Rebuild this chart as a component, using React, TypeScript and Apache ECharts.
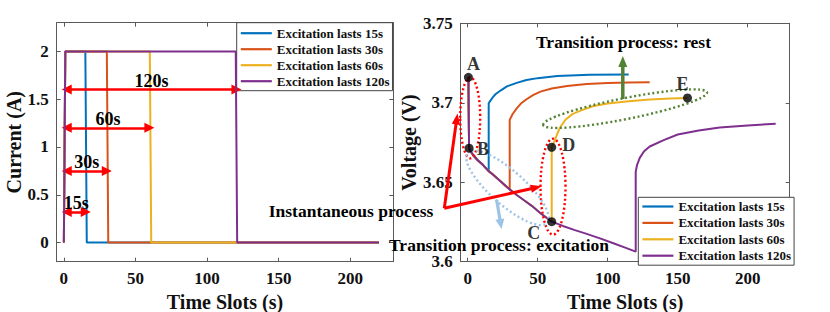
import React, { useEffect, useRef } from "react";
import * as echarts from "echarts";

const FONT = "'Liberation Serif', 'Times New Roman', serif";
const AXIS = "#5a5a5a";
const INK = "#111";

const seriesNames = ["Excitation lasts 15s", "Excitation lasts 30s", "Excitation lasts 60s", "Excitation lasts 120s"];
const seriesColors = ["#0072BD", "#D95319", "#EDB120", "#7E2F8E"];

const xTicks = [0, 50, 100, 150, 200];
const currentTicks = [0, 0.5, 1, 1.5, 2];
const voltageTicks = [3.6, 3.65, 3.7, 3.75];

// Current (A) vs time (s)
const curT15 = [0, 1, 15, 16, 220];
const curA15 = [0, 2, 2, 0, 0];
const curT30 = [0, 1, 30, 31, 220];
const curA30 = [0, 2, 2, 0, 0];
const curT60 = [0, 1, 60, 61, 220];
const curA60 = [0, 2, 2, 0, 0];
const curT120 = [0, 1, 120, 121, 220];
const curA120 = [0, 2, 2, 0, 0];

// Double arrows in the current plot
const spanStart = [2, 2, 2, 2];
const spanEnd = [15.3, 30, 59.7, 120.5];
const spanLevel = [0.32, 0.75, 1.2, 1.6];
const spanLabels = ["15s", "30s", "60s", "120s"];

// Voltage during the (shared) excitation
const exciteT = [0.5, 1, 2, 4, 7, 11, 15, 18, 23, 28, 30, 35, 40, 46, 52, 60, 68, 76, 85, 95, 105, 112, 120];
const exciteV = [3.716, 3.6714, 3.6695, 3.667, 3.664, 3.6608, 3.657, 3.6548, 3.651, 3.647, 3.6455, 3.642, 3.6388, 3.635, 3.6305, 3.6252, 3.6225, 3.62, 3.6175, 3.6145, 3.6113, 3.609, 3.6063];

// Voltage during rest
const restT15 = [15, 16, 18, 20, 24, 28, 35, 42, 50, 64, 87, 115];
const restV15 = [3.6997, 3.701, 3.7035, 3.7055, 3.708, 3.7103, 3.7125, 3.7143, 3.7155, 3.7168, 3.7176, 3.7178];
const restT30 = [30, 31, 32, 35, 38, 42, 47, 52, 60, 71, 85, 100, 115, 130];
const restV30 = [3.6892, 3.691, 3.6928, 3.6965, 3.6995, 3.7022, 3.705, 3.707, 3.709, 3.7106, 3.7118, 3.7124, 3.7127, 3.7129];
const restT60 = [60, 62, 64, 66, 70, 75, 82, 90, 100, 115, 130, 145, 157];
const restV60 = [3.672, 3.676, 3.6805, 3.6845, 3.6895, 3.693, 3.6955, 3.698, 3.6995, 3.701, 3.702, 3.7027, 3.703];
const restT120 = [120, 121, 123, 126, 130, 140, 150, 165, 180, 200, 220];
const restV120 = [3.6565, 3.661, 3.6655, 3.6695, 3.6725, 3.6765, 3.68, 3.6825, 3.6845, 3.6857, 3.6868];

// Marked points A..E
const pointNames = ["A", "B", "C", "D", "E"];
const pointT = [0.5, 1, 60, 60, 157];
const pointV = [3.716, 3.6714, 3.6252, 3.672, 3.703];
const pointLabelOffset = [[5, -13], [14, 1], [-18, 11], [17, -2], [-5, -14]];

const zip = (a: number[], b: number[]) => a.map((v, i) => [v, b[i]]);

function voltageSeries(L: number, rt: number[], rv: number[]) {
  const pts: number[][] = [];
  exciteT.forEach((t, i) => {
    if (t <= L) pts.push([t, exciteV[i]]);
  });
  return pts.concat(zip(rt, rv));
}

function arrow(x1: number, y1: number, x2: number, y2: number, color: string, w: number, hl: number, hw: number) {
  const dx = x2 - x1, dy = y2 - y1;
  const len = Math.hypot(dx, dy);
  const ux = dx / len, uy = dy / len;
  const bx = x2 - ux * hl, by = y2 - uy * hl;
  const px = -uy, py = ux;
  return [
    { type: "line", z: 30, shape: { x1, y1, x2: bx + ux, y2: by + uy }, style: { stroke: color, lineWidth: w } },
    {
      type: "polygon",
      z: 30,
      shape: { points: [[x2, y2], [bx + px * hw, by + py * hw], [bx - px * hw, by - py * hw]] },
      style: { fill: color },
    },
  ];
}

function dottedEllipse(cx: number, cy: number, rx: number, ry: number, rotation: number, color: string) {
  return {
    type: "ellipse",
    z: 25,
    originX: cx,
    originY: cy,
    rotation,
    shape: { cx, cy, rx, ry },
    style: { fill: "none", stroke: color, lineWidth: 2.4, lineDash: [2, 2.6] },
  };
}

function annotText(x: number, y: number, text: string, align: string) {
  return {
    type: "text",
    z: 40,
    x,
    y,
    style: {
      text,
      fill: "#000",
      font: `bold 17.5px ${FONT}`,
      textAlign: align,
      textVerticalAlign: "middle",
    },
  };
}

function makeXAxis(grid: number, top: boolean, name?: string) {
  return {
    gridIndex: grid,
    type: "value",
    min: -5,
    max: 230,
    position: top ? "top" : "bottom",
    axisLine: { show: true, onZero: false, lineStyle: { color: AXIS, width: 1 } },
    axisTick: { show: true, inside: true, length: 4, customValues: xTicks, lineStyle: { color: AXIS } },
    axisLabel: top
      ? { show: false }
      : { show: true, customValues: xTicks, margin: 8, fontSize: 17, fontWeight: "bold", fontFamily: FONT, color: INK },
    splitLine: { show: false },
    name: top ? undefined : name,
    nameLocation: "middle",
    nameGap: 30,
    nameTextStyle: { fontSize: 20, fontWeight: "bold", fontFamily: FONT, color: INK },
  };
}

function makeYAxis(grid: number, right: boolean, min: number, max: number, ticks: number[], name?: string, gap?: number) {
  return {
    gridIndex: grid,
    type: "value",
    min,
    max,
    position: right ? "right" : "left",
    axisLine: { show: true, onZero: false, lineStyle: { color: AXIS, width: 1 } },
    axisTick: { show: true, inside: true, length: 4, customValues: ticks, lineStyle: { color: AXIS } },
    axisLabel: right
      ? { show: false }
      : {
          show: true,
          customValues: ticks,
          margin: 8,
          fontSize: 17,
          fontWeight: "bold",
          fontFamily: FONT,
          color: INK,
          verticalAlignMinLabel: "middle",
          verticalAlignMaxLabel: "middle",
        },
    splitLine: { show: false },
    name: right ? undefined : name,
    nameLocation: "middle",
    nameGap: gap,
    nameTextStyle: { fontSize: 20, fontWeight: "bold", fontFamily: FONT, color: INK },
  };
}

function legendOpt(left: number, top: number, gap: number, padTop: number) {
  return {
    data: seriesNames,
    orient: "vertical",
    left,
    top,
    itemWidth: 31,
    itemHeight: 12,
    itemGap: gap,
    itemTextGap: 4,
    padding: [padTop, 3, 3, 3],
    borderColor: "#444",
    borderWidth: 1,
    backgroundColor: "#fff",
    borderRadius: 0,
    selectedMode: false,
    itemStyle: { opacity: 0 },
    lineStyle: { width: 2.2 },
    textStyle: { fontSize: 13, fontWeight: "bold", fontFamily: FONT, color: INK, lineHeight: 12 },
  };
}

export default function App() {
  const ref = useRef<HTMLDivElement>(null);

  useEffect(() => {
    if (!ref.current) return;
    const chart = echarts.init(ref.current, null, { renderer: "svg" });

    const curData = [zip(curT15, curA15), zip(curT30, curA30), zip(curT60, curA60), zip(curT120, curA120)];
    const voltData = [
      voltageSeries(15, restT15, restV15),
      voltageSeries(30, restT30, restV30),
      voltageSeries(60, restT60, restV60),
      voltageSeries(120, restT120, restV120),
    ];

    const series: any[] = [];
    seriesNames.forEach((name, i) => {
      series.push({
        name,
        type: "line",
        xAxisIndex: 0,
        yAxisIndex: 0,
        data: curData[i],
        symbol: "none",
        color: seriesColors[i],
        lineStyle: { width: 2, color: seriesColors[i] },
        z: 2 + i,
      });
    });
    seriesNames.forEach((name, i) => {
      series.push({
        name,
        type: "line",
        xAxisIndex: 2,
        yAxisIndex: 2,
        data: voltData[i],
        symbol: "none",
        color: seriesColors[i],
        lineStyle: { width: 2, color: seriesColors[i] },
        z: 2 + i,
      });
    });

    series.push({
      name: "spans",
      type: "line",
      xAxisIndex: 0,
      yAxisIndex: 0,
      data: [[0, 0]],
      symbol: "none",
      lineStyle: { opacity: 0 },
      z: 10,
      markLine: {
        silent: true,
        animation: false,
        symbol: ["triangle", "triangle"],
        symbolSize: 10,
        lineStyle: { color: "#ff0000", width: 2.5, type: "solid" },
        label: {
          show: true,
          position: "middle",
          distance: 0,
          formatter: "{b}",
          fontSize: 18,
          fontWeight: "bold",
          fontFamily: FONT,
          color: "#000",
        },
        emphasis: { disabled: true },
        data: spanLabels.map((lab, i) => [
          { name: lab, coord: [spanStart[i], spanLevel[i]] },
          { coord: [spanEnd[i], spanLevel[i]] },
        ]),
      },
    });

    series.push({
      name: "points",
      type: "scatter",
      xAxisIndex: 2,
      yAxisIndex: 2,
      symbolSize: 9,
      itemStyle: { color: "#000" },
      z: 50,
      label: {
        show: true,
        position: "inside",
        formatter: "{b}",
        fontSize: 18,
        fontWeight: "bold",
        fontFamily: FONT,
        color: "#000",
      },
      data: pointNames.map((n, i) => ({
        name: n,
        value: [pointT[i], pointV[i]],
        label: { offset: pointLabelOffset[i] },
      })),
    });

    const graphics: any[] = [
      dottedEllipse(470.2, 117.8, 10, 40.5, 0, "#ff0000"),
      dottedEllipse(553, 186.7, 12.5, 48, 0, "#ff0000"),
      dottedEllipse(625, 108.8, 83.5, 10.5, 0.196, "#548235"),
      dottedEllipse(507.5, 188, 53, 17, -0.724, "#9DC3E6"),
      ...arrow(444.3, 208.3, 457.5, 113.5, "#ff0000", 3, 11, 4.2),
      ...arrow(444.3, 208.3, 541.7, 186.3, "#ff0000", 3, 11, 4.2),
      ...arrow(622.8, 99, 622.8, 56, "#548235", 3.5, 11, 4.5),
      ...arrow(496.7, 200, 501.5, 229, "#9DC3E6", 3.2, 10, 4.5),
      annotText(351, 210.7, "Instantaneous process", "center"),
      annotText(389, 244.5, "Transition process: excitation", "left"),
      annotText(623.5, 42, "Transition process: rest", "center"),
    ];

    chart.setOption({
      animation: false,
      backgroundColor: "#fff",
      textStyle: { fontFamily: FONT },
      grid: [
        { left: 56.7, top: 22.7, width: 336.6, height: 239, containLabel: false, outerBoundsMode: "none" },
        { left: 460.7, top: 23.3, width: 329, height: 238.4, containLabel: false, outerBoundsMode: "none" },
      ],
      xAxis: [
        makeXAxis(0, false, "Time Slots (s)"),
        makeXAxis(0, true),
        makeXAxis(1, false, "Time Slots (s)"),
        makeXAxis(1, true),
      ],
      yAxis: [
        makeYAxis(0, false, -0.2, 2.3, currentTicks, "Current (A)", 31),
        makeYAxis(0, true, -0.2, 2.3, currentTicks),
        makeYAxis(1, false, 3.6, 3.75, voltageTicks, "Voltage (V)", 40),
        makeYAxis(1, true, 3.6, 3.75, voltageTicks),
      ],
      legend: [legendOpt(236.7, 22.7, 3, 4), legendOpt(638.3, 197.3, 3.4, 2.7)],
      series,
      graphic: { elements: graphics },
    });

    return () => chart.dispose();
  }, []);

  return (
    <div
      ref={ref}
      style={{ position: "fixed", left: 0, top: 0, width: 830, height: 312, background: "#fff" }}
    />
  );
}
